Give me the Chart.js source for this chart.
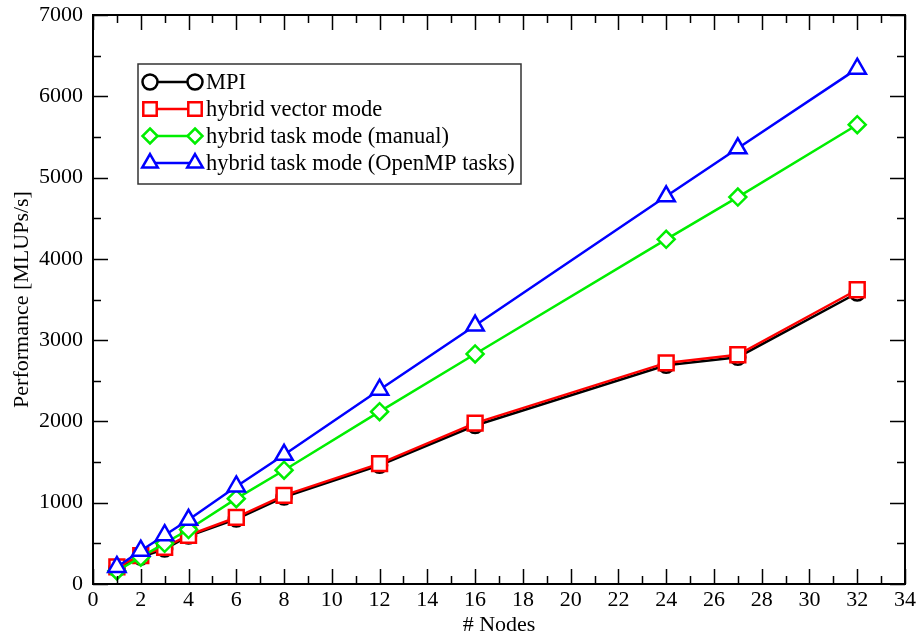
<!DOCTYPE html>
<html>
<head>
<meta charset="utf-8">
<script src="https://cdn.jsdelivr.net/npm/chart.js@4/dist/chart.umd.min.js"></script>
<style>
  html, body { margin: 0; padding: 0; background: #fff; }
  #wrap { width: 919px; height: 634px; }
</style>
</head>
<body>
<div id="wrap"><canvas id="c" width="919" height="634"></canvas></div>
<script>
// ---- data ----
const nodes = [1, 2, 3, 4, 6, 8, 12, 16, 24, 27, 32];
const mpi = [190, 330, 430, 590, 800, 1070, 1460, 1950, 2690, 2790, 3580];
const hybridVector = [210, 350, 450, 600, 820, 1090, 1480, 1980, 2720, 2820, 3620];
const hybridManual = [160, 330, 500, 670, 1050, 1400, 2120, 2830, 4240, 4760, 5650];
const hybridOpenMP = [210, 410, 600, 790, 1200, 1590, 2390, 3180, 4770, 5360, 6340];
const seriesNames = ['MPI', 'hybrid vector mode', 'hybrid task mode (manual)', 'hybrid task mode (OpenMP tasks)'];
const xTitle = '# Nodes';
const yTitle = 'Performance [MLUPs/s]';

const FONT = "'Liberation Serif', 'Times New Roman', serif";

function pts(ys) { return nodes.map((x, i) => ({ x: x, y: ys[i] })); }

const styles = [
  { color: '#000000', point: 'circle', r: 7.5 },
  { color: '#ff0000', point: 'rect', r: 10.5 },
  { color: '#00ee00', point: 'rectRot', r: 8.5 },
  { color: '#0000ff', point: 'triangle', r: 10 }
];
const allSeries = [mpi, hybridVector, hybridManual, hybridOpenMP];

const datasets = allSeries.map((s, i) => ({
  label: seriesNames[i],
  data: pts(s),
  showLine: true,
  borderColor: styles[i].color,
  backgroundColor: '#ffffff',
  borderWidth: 2.5,
  pointStyle: styles[i].point,
  pointRadius: styles[i].r,
  pointHoverRadius: styles[i].r,
  pointBorderWidth: 2.5,
  pointBackgroundColor: '#ffffff',
  pointBorderColor: styles[i].color,
  order: 4 - i
}));

function drawMarker(ctx, style, x, y, r) {
  ctx.beginPath();
  if (style === 'circle') {
    ctx.arc(x, y, r, 0, Math.PI * 2);
  } else if (style === 'rect') {
    const s = r * Math.SQRT1_2;
    ctx.rect(x - s, y - s, 2 * s, 2 * s);
  } else if (style === 'rectRot') {
    ctx.moveTo(x, y - r); ctx.lineTo(x + r, y); ctx.lineTo(x, y + r); ctx.lineTo(x - r, y);
    ctx.closePath();
  } else if (style === 'triangle') {
    for (let k = 0; k < 3; k++) {
      const a = k * 2 * Math.PI / 3;
      const px = x + Math.sin(a) * r, py = y - Math.cos(a) * r;
      if (k === 0) ctx.moveTo(px, py); else ctx.lineTo(px, py);
    }
    ctx.closePath();
  }
  ctx.fill();
  ctx.stroke();
}

const framePlugin = {
  id: 'frame',
  afterDraw(chart) {
    const ctx = chart.ctx;
    const a = chart.chartArea;
    const xs = chart.scales.x, ys = chart.scales.y;
    ctx.save();
    ctx.strokeStyle = '#000';
    ctx.lineWidth = 2;
    ctx.strokeRect(a.left, a.top, a.right - a.left, a.bottom - a.top);
    ctx.lineWidth = 1.5;
    ctx.beginPath();
    for (let v = 0; v <= 34; v += 1) {
      const len = (v % 2 === 0) ? 15 : 8;
      const px = Math.round(xs.getPixelForValue(v)) + 0.5;
      ctx.moveTo(px, a.bottom); ctx.lineTo(px, a.bottom - len);
      ctx.moveTo(px, a.top); ctx.lineTo(px, a.top + len);
    }
    for (let v = 0; v <= 7000; v += 500) {
      const len = (v % 1000 === 0) ? 15 : 8;
      const py = Math.round(ys.getPixelForValue(v)) + 0.5;
      ctx.moveTo(a.left, py); ctx.lineTo(a.left + len, py);
      ctx.moveTo(a.right, py); ctx.lineTo(a.right - len, py);
    }
    ctx.stroke();

    // legend box
    const bx = 138, by = 64, bw = 383, bh = 120;
    ctx.fillStyle = '#fff';
    ctx.fillRect(bx, by, bw, bh);
    ctx.strokeStyle = '#333';
    ctx.lineWidth = 1.5;
    ctx.strokeRect(bx, by, bw, bh);
    ctx.font = '22.5px ' + FONT;
    ctx.textBaseline = 'middle';
    ctx.textAlign = 'left';
    for (let i = 0; i < seriesNames.length; i++) {
      const y = 82 + i * 27;
      const st = styles[i];
      ctx.strokeStyle = st.color;
      ctx.lineWidth = 2.5;
      ctx.beginPath();
      ctx.moveTo(150, y); ctx.lineTo(195, y);
      ctx.stroke();
      ctx.fillStyle = '#fff';
      const r = st.point === 'rect' ? 9.5 : (st.point === 'triangle' ? 9 : 7.5);
      drawMarker(ctx, st.point, 150, y, r);
      drawMarker(ctx, st.point, 195, y, r);
      ctx.fillStyle = '#000';
      ctx.fillText(seriesNames[i], 206, y + 1);
    }
    ctx.restore();
  }
};

new Chart(document.getElementById('c'), {
  type: 'scatter',
  data: { datasets: datasets },
  options: {
    responsive: false,
    animation: false,
    events: [],
    layout: { padding: { top: 15, right: 13, left: 0, bottom: 0 } },
    plugins: { legend: { display: false }, tooltip: { enabled: false } },
    scales: {
      x: {
        type: 'linear', min: 0, max: 34,
        grid: { display: false, drawTicks: false },
        border: { display: false },
        ticks: { stepSize: 2, color: '#000', padding: 3, font: { family: FONT, size: 22 }, maxRotation: 0,
                 callback: (v) => String(v) },
        title: { display: true, text: xTitle, color: '#000', font: { family: FONT, size: 22 }, padding: { top: 0, bottom: -4 } },
        afterFit(scale) { scale.height = 50; }
      },
      y: {
        type: 'linear', min: 0, max: 7000,
        grid: { display: false, drawTicks: false },
        border: { display: false },
        ticks: { stepSize: 1000, color: '#000', padding: 10, font: { family: FONT, size: 22, lineHeight: 0.3 },
                 callback: (v) => String(v) },
        title: { display: true, text: yTitle, color: '#000', font: { family: FONT, size: 22 }, padding: { top: 9, bottom: 0 } },
        afterFit(scale) { scale.width = 93; }
      }
    }
  },
  plugins: [framePlugin]
});
</script>
</body>
</html>
